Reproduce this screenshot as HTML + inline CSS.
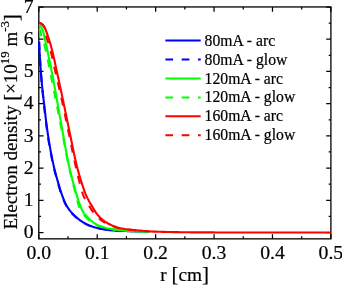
<!DOCTYPE html>
<html><head><meta charset="utf-8"><title>Electron density</title>
<style>
html,body{margin:0;padding:0;background:#fff;}
body{width:342px;height:285px;overflow:hidden;position:relative;}
svg text{font-family:"Liberation Serif",serif;fill:#000;stroke:#000;stroke-width:0.2px;}
</style></head><body>
<svg width="342" height="285" viewBox="0 0 342 285" style="position:absolute;left:0;top:0;will-change:transform">
<rect width="342" height="285" fill="#fff"/>
<path d="M38.80,238.85 v-4.7 M38.80,6.95 v4.7 M68.01,238.85 v-2.6 M68.01,6.95 v2.6 M97.22,238.85 v-4.7 M97.22,6.95 v4.7 M126.43,238.85 v-2.6 M126.43,6.95 v2.6 M155.64,238.85 v-4.7 M155.64,6.95 v4.7 M184.85,238.85 v-2.6 M184.85,6.95 v2.6 M214.06,238.85 v-4.7 M214.06,6.95 v4.7 M243.27,238.85 v-2.6 M243.27,6.95 v2.6 M272.48,238.85 v-4.7 M272.48,6.95 v4.7 M301.69,238.85 v-2.6 M301.69,6.95 v2.6 M330.90,238.85 v-4.7 M330.90,6.95 v4.7 M38.8,232.50 h4.7 M330.9,232.50 h-4.7 M38.8,216.40 h2.2 M330.9,216.40 h-2.2 M38.8,200.29 h4.7 M330.9,200.29 h-4.7 M38.8,184.19 h2.2 M330.9,184.19 h-2.2 M38.8,168.08 h4.7 M330.9,168.08 h-4.7 M38.8,151.97 h2.2 M330.9,151.97 h-2.2 M38.8,135.87 h4.7 M330.9,135.87 h-4.7 M38.8,119.77 h2.2 M330.9,119.77 h-2.2 M38.8,103.66 h4.7 M330.9,103.66 h-4.7 M38.8,87.56 h2.2 M330.9,87.56 h-2.2 M38.8,71.45 h4.7 M330.9,71.45 h-4.7 M38.8,55.34 h2.2 M330.9,55.34 h-2.2 M38.8,39.24 h4.7 M330.9,39.24 h-4.7 M38.8,23.13 h2.2 M330.9,23.13 h-2.2 M38.8,7.03 h4.7 M330.9,7.03 h-4.7" stroke="#000" stroke-width="1.25" fill="none"/>
<rect x="38.8" y="6.95" width="292.09999999999997" height="231.9" fill="none" stroke="#000" stroke-width="1.3"/>
<clipPath id="c"><rect x="37.5" y="6.95" width="293.4" height="231.9"/></clipPath>
<g clip-path="url(#c)" fill="none" stroke-width="2.1" stroke-linejoin="round">
<path d="M39.10,41.60 L39.15,42.89 L39.20,44.18 L39.26,45.47 L39.31,46.77 L39.37,48.06 L39.44,49.35 L39.50,50.64 L39.57,51.93 L39.64,53.22 L39.71,54.51 L39.79,55.80 L39.86,57.09 L39.94,58.38 L40.02,59.67 L40.10,60.96 L40.19,62.24 L40.27,63.53 L40.36,64.82 L40.45,66.11 L40.54,67.40 L40.63,68.69 L40.73,69.97 L40.82,71.26 L40.92,72.55 L41.01,73.84 L41.11,75.12 L41.21,76.41 L41.32,77.70 L41.43,78.98 L41.54,80.27 L41.66,81.56 L41.78,82.84 L41.90,84.13 L42.03,85.41 L42.16,86.70 L42.29,87.98 L42.43,89.27 L42.57,90.55 L42.71,91.84 L42.85,93.12 L42.99,94.41 L43.14,95.69 L43.28,96.97 L43.43,98.26 L43.58,99.54 L43.72,100.83 L43.87,102.11 L44.02,103.39 L44.16,104.68 L44.31,105.96 L44.46,107.24 L44.60,108.53 L44.75,109.81 L44.90,111.09 L45.05,112.38 L45.20,113.66 L45.35,114.94 L45.50,116.23 L45.66,117.51 L45.82,118.79 L45.97,120.07 L46.13,121.36 L46.30,122.64 L46.46,123.92 L46.63,125.20 L46.80,126.48 L46.97,127.76 L47.14,129.04 L47.32,130.32 L47.50,131.60 L47.69,132.88 L47.87,134.15 L48.06,135.43 L48.26,136.71 L48.46,137.98 L48.66,139.26 L48.86,140.53 L49.07,141.81 L49.28,143.08 L49.50,144.36 L49.71,145.63 L49.94,146.91 L50.16,148.18 L50.39,149.45 L50.62,150.72 L50.86,152.00 L51.10,153.27 L51.34,154.54 L51.59,155.80 L51.84,157.07 L52.09,158.34 L52.35,159.60 L52.62,160.87 L52.88,162.13 L53.15,163.39 L53.42,164.65 L53.70,165.91 L53.99,167.17 L54.29,168.42 L54.60,169.68 L54.92,170.93 L55.25,172.18 L55.58,173.43 L55.92,174.68 L56.26,175.93 L56.61,177.17 L56.95,178.42 L57.30,179.66 L57.65,180.90 L58.00,182.15 L58.36,183.39 L58.71,184.63 L59.07,185.88 L59.44,187.12 L59.81,188.36 L60.19,189.59 L60.58,190.83 L60.98,192.05 L61.39,193.28 L61.82,194.49 L62.25,195.70 L62.70,196.92 L63.16,198.14 L63.64,199.35 L64.13,200.56 L64.65,201.75 L65.18,202.93 L65.75,204.08 L66.34,205.21 L66.97,206.31 L67.65,207.40 L68.37,208.48 L69.14,209.53 L69.93,210.57 L70.76,211.59 L71.60,212.57 L72.46,213.53 L73.33,214.46 L74.24,215.37 L75.19,216.25 L76.16,217.12 L77.16,217.96 L78.17,218.77 L79.20,219.56 L80.23,220.32 L81.29,221.06 L82.36,221.78 L83.46,222.48 L84.58,223.13 L85.71,223.75 L86.86,224.33 L88.03,224.88 L89.22,225.39 L90.42,225.87 L91.63,226.32 L92.85,226.74 L94.09,227.13 L95.33,227.49 L96.58,227.82 L97.83,228.11 L99.10,228.38 L100.37,228.63 L101.64,228.87 L102.91,229.11 L104.18,229.34 L105.45,229.56 L106.73,229.75 L108.01,229.93 L109.29,230.10 L110.57,230.24 L111.86,230.37 L113.15,230.46 L114.43,230.54 L115.72,230.62 L117.01,230.68 L118.31,230.74 L119.60,230.80 L120.89,230.85 L122.18,230.91 L123.47,230.96 L124.76,231.01 L126.05,231.06 L127.34,231.11 L128.63,231.16 L129.92,231.20 L131.21,231.24 L132.51,231.28 L133.80,231.32 L135.09,231.36 L136.38,231.40 L137.67,231.44 L138.96,231.48 L140.25,231.51 L141.54,231.55 L142.83,231.58 L144.13,231.61 L145.42,231.64 L146.71,231.67 L148.00,231.70" stroke="#0000ff"/>
<path d="M39.10,42.00 L39.15,43.21 L39.21,44.43 L39.26,45.64 L39.32,46.85 L39.38,48.07 L39.44,49.28 L39.50,50.49 L39.57,51.71 L39.63,52.92 L39.70,54.13 L39.77,55.34 L39.84,56.55 L39.92,57.77 L39.99,58.98 L40.07,60.19 L40.15,61.40 L40.22,62.61 L40.31,63.83 L40.39,65.04 L40.47,66.25 L40.55,67.46 L40.64,68.67 L40.72,69.88 L40.81,71.09 L40.90,72.30 L40.99,73.51 L41.08,74.72 L41.17,75.93 L41.27,77.14 L41.36,78.35 L41.46,79.56 L41.57,80.77 L41.67,81.98 L41.78,83.19 L41.89,84.40 L42.00,85.61 L42.12,86.82 L42.24,88.03 L42.35,89.23 L42.47,90.44 L42.60,91.65 L42.72,92.86 L42.84,94.07 L42.97,95.27 L43.10,96.48 L43.23,97.69 L43.35,98.90 L43.48,100.11 L43.61,101.31 L43.74,102.52 L43.87,103.73 L44.01,104.93 L44.14,106.14 L44.27,107.35 L44.40,108.55 L44.53,109.76 L44.67,110.97 L44.80,112.18 L44.94,113.38 L45.08,114.59 L45.22,115.80 L45.36,117.00 L45.50,118.21 L45.64,119.42 L45.79,120.62 L45.93,121.83 L46.08,123.03 L46.23,124.24 L46.39,125.44 L46.54,126.65 L46.70,127.85 L46.86,129.05 L47.03,130.26 L47.19,131.46 L47.36,132.66 L47.53,133.86 L47.71,135.06 L47.89,136.26 L48.07,137.46 L48.25,138.66 L48.44,139.86 L48.64,141.06 L48.83,142.26 L49.03,143.45 L49.23,144.65 L49.44,145.85 L49.65,147.05 L49.86,148.24 L50.08,149.44 L50.30,150.64 L50.52,151.83 L50.75,153.02 L50.97,154.22 L51.21,155.41 L51.44,156.60 L51.68,157.79 L51.92,158.98 L52.17,160.17 L52.42,161.36 L52.67,162.55 L52.92,163.73 L53.18,164.92 L53.45,166.10 L53.72,167.28 L54.00,168.46 L54.29,169.64 L54.59,170.82 L54.90,171.99 L55.21,173.17 L55.53,174.34 L55.85,175.51 L56.17,176.68 L56.50,177.85 L56.83,179.02 L57.15,180.19 L57.48,181.36 L57.81,182.53 L58.14,183.70 L58.48,184.87 L58.82,186.04 L59.16,187.20 L59.51,188.37 L59.87,189.53 L60.24,190.69 L60.61,191.84 L61.00,192.99 L61.39,194.14 L61.80,195.27 L62.22,196.42 L62.64,197.56 L63.08,198.70 L63.54,199.84 L64.01,200.97 L64.50,202.09 L65.01,203.19 L65.54,204.27 L66.10,205.33 L66.70,206.36 L67.34,207.39 L68.02,208.40 L68.73,209.39 L69.48,210.37 L70.25,211.33 L71.04,212.27 L71.84,213.18 L72.65,214.06 L73.49,214.92 L74.36,215.76 L75.26,216.59 L76.18,217.39 L77.12,218.18 L78.08,218.94 L79.05,219.67 L80.02,220.39 L81.01,221.08 L82.03,221.76 L83.06,222.41 L84.11,223.03 L85.17,223.62 L86.24,224.17 L87.34,224.70 L88.45,225.19 L89.58,225.66 L90.71,226.09 L91.85,226.50 L93.00,226.88 L94.17,227.24 L95.34,227.58 L96.51,227.88 L97.69,228.15 L98.88,228.40 L100.07,228.63 L101.27,228.86 L102.46,229.08 L103.66,229.30 L104.85,229.51 L106.05,229.70 L107.25,229.87 L108.46,230.03 L109.66,230.18 L110.87,230.30 L112.08,230.41 L113.29,230.49 L114.50,230.56 L115.71,230.63 L116.93,230.69 L118.14,230.75 L119.35,230.80 L120.57,230.85 L121.78,230.90 L122.99,230.95 L124.21,231.00 L125.42,231.05 L126.63,231.10 L127.85,231.14 L129.06,231.19 L130.27,231.23 L131.49,231.26 L132.70,231.30" stroke="#0000ff" stroke-dasharray="7.9 8.1" stroke-dashoffset="0"/>
<path d="M38.90,25.10 L40.16,25.57 L40.99,26.49 L41.65,27.75 L42.22,28.99 L42.72,30.23 L43.15,31.50 L43.51,32.79 L43.80,34.09 L44.08,35.40 L44.37,36.70 L44.66,38.01 L44.95,39.31 L45.24,40.62 L45.53,41.92 L45.82,43.23 L46.10,44.53 L46.38,45.84 L46.66,47.15 L46.94,48.45 L47.22,49.76 L47.50,51.07 L47.78,52.38 L48.05,53.68 L48.33,54.99 L48.61,56.30 L48.88,57.61 L49.15,58.91 L49.43,60.22 L49.70,61.53 L49.97,62.84 L50.24,64.15 L50.50,65.46 L50.77,66.77 L51.03,68.08 L51.30,69.39 L51.56,70.70 L51.82,72.01 L52.07,73.32 L52.33,74.63 L52.58,75.95 L52.83,77.26 L53.08,78.57 L53.33,79.88 L53.57,81.20 L53.82,82.51 L54.06,83.83 L54.30,85.14 L54.54,86.46 L54.77,87.77 L55.01,89.09 L55.25,90.40 L55.48,91.72 L55.72,93.03 L55.95,94.35 L56.19,95.67 L56.42,96.98 L56.65,98.30 L56.89,99.61 L57.12,100.93 L57.36,102.25 L57.59,103.56 L57.83,104.88 L58.06,106.19 L58.30,107.51 L58.53,108.82 L58.77,110.14 L59.00,111.45 L59.24,112.77 L59.47,114.09 L59.70,115.40 L59.94,116.72 L60.17,118.03 L60.40,119.35 L60.63,120.67 L60.87,121.98 L61.10,123.30 L61.33,124.61 L61.57,125.93 L61.80,127.25 L62.04,128.56 L62.27,129.88 L62.51,131.19 L62.75,132.51 L62.99,133.82 L63.22,135.14 L63.46,136.45 L63.70,137.77 L63.94,139.08 L64.17,140.40 L64.40,141.72 L64.64,143.03 L64.87,144.35 L65.10,145.67 L65.33,146.98 L65.57,148.30 L65.81,149.62 L66.04,150.93 L66.28,152.25 L66.53,153.56 L66.77,154.87 L67.02,156.19 L67.27,157.50 L67.53,158.81 L67.79,160.12 L68.05,161.43 L68.32,162.74 L68.60,164.04 L68.88,165.35 L69.17,166.65 L69.46,167.96 L69.77,169.26 L70.08,170.56 L70.40,171.85 L70.73,173.15 L71.06,174.45 L71.39,175.74 L71.72,177.04 L72.06,178.33 L72.40,179.62 L72.74,180.91 L73.08,182.21 L73.43,183.50 L73.77,184.79 L74.13,186.08 L74.48,187.37 L74.84,188.66 L75.21,189.94 L75.58,191.23 L75.95,192.51 L76.33,193.79 L76.72,195.07 L77.11,196.35 L77.50,197.63 L77.90,198.91 L78.30,200.19 L78.72,201.46 L79.15,202.72 L79.61,203.98 L80.09,205.22 L80.59,206.45 L81.10,207.71 L81.64,208.96 L82.21,210.19 L82.83,211.39 L83.49,212.54 L84.21,213.63 L85.06,214.62 L86.05,215.55 L86.98,216.51 L87.90,217.48 L88.83,218.45 L89.77,219.41 L90.74,220.32 L91.75,221.18 L92.79,222.02 L93.87,222.84 L94.98,223.61 L96.11,224.29 L97.29,224.88 L98.51,225.41 L99.77,225.89 L101.04,226.34 L102.31,226.77 L103.57,227.20 L104.85,227.60 L106.14,227.97 L107.43,228.29 L108.74,228.57 L110.05,228.82 L111.37,229.05 L112.69,229.26 L114.01,229.45 L115.34,229.62 L116.66,229.79 L117.99,229.95 L119.32,230.11 L120.65,230.26 L121.97,230.40 L123.31,230.51 L124.64,230.63 L125.97,230.73 L127.30,230.84 L128.64,230.93 L129.97,231.02 L131.30,231.10 L132.64,231.18 L133.97,231.25 L135.31,231.31 L136.64,231.37 L137.98,231.43 L139.31,231.49 L140.65,231.54 L141.98,231.59 L143.32,231.64 L144.65,231.68 L145.99,231.72 L147.33,231.75 L148.66,231.78 L150.00,231.80" stroke="#00ff00"/>
<path d="M38.90,27.30 L39.31,28.48 L39.69,29.67 L40.05,30.87 L40.38,32.07 L40.67,33.28 L40.95,34.50 L41.25,35.71 L41.61,36.90 L42.01,38.09 L42.43,39.26 L42.87,40.44 L43.30,41.61 L43.71,42.79 L44.10,43.98 L44.45,45.17 L44.77,46.37 L45.08,47.58 L45.38,48.78 L45.67,49.99 L45.96,51.21 L46.24,52.42 L46.51,53.64 L46.78,54.86 L47.04,56.08 L47.30,57.30 L47.55,58.52 L47.80,59.75 L48.04,60.98 L48.28,62.20 L48.52,63.43 L48.76,64.66 L49.00,65.89 L49.24,67.12 L49.48,68.34 L49.72,69.57 L49.96,70.80 L50.20,72.03 L50.44,73.25 L50.69,74.47 L50.94,75.70 L51.19,76.92 L51.44,78.14 L51.69,79.37 L51.94,80.59 L52.18,81.81 L52.43,83.04 L52.67,84.26 L52.91,85.49 L53.15,86.71 L53.40,87.94 L53.64,89.16 L53.88,90.39 L54.12,91.61 L54.36,92.84 L54.60,94.06 L54.84,95.29 L55.08,96.51 L55.32,97.74 L55.56,98.96 L55.80,100.19 L56.04,101.41 L56.28,102.64 L56.52,103.86 L56.77,105.09 L57.01,106.31 L57.25,107.53 L57.50,108.76 L57.74,109.98 L57.98,111.21 L58.23,112.43 L58.47,113.66 L58.72,114.88 L58.96,116.11 L59.20,117.33 L59.45,118.55 L59.69,119.78 L59.93,121.00 L60.18,122.23 L60.42,123.45 L60.66,124.68 L60.91,125.90 L61.15,127.12 L61.39,128.35 L61.63,129.57 L61.87,130.80 L62.12,132.02 L62.36,133.25 L62.60,134.47 L62.84,135.70 L63.07,136.92 L63.31,138.15 L63.54,139.38 L63.77,140.60 L64.00,141.83 L64.23,143.06 L64.46,144.29 L64.69,145.52 L64.91,146.74 L65.14,147.97 L65.37,149.20 L65.60,150.43 L65.83,151.65 L66.06,152.88 L66.29,154.11 L66.53,155.33 L66.77,156.56 L67.01,157.78 L67.25,159.01 L67.50,160.23 L67.75,161.45 L68.00,162.67 L68.26,163.89 L68.52,165.11 L68.80,166.33 L69.07,167.55 L69.36,168.76 L69.65,169.98 L69.94,171.19 L70.24,172.40 L70.54,173.61 L70.84,174.83 L71.15,176.04 L71.45,177.25 L71.76,178.46 L72.06,179.67 L72.36,180.88 L72.66,182.09 L72.96,183.30 L73.27,184.52 L73.57,185.73 L73.87,186.94 L74.18,188.15 L74.49,189.36 L74.80,190.57 L75.10,191.78 L75.41,192.99 L75.73,194.19 L76.04,195.40 L76.34,196.62 L76.63,197.84 L76.92,199.06 L77.21,200.29 L77.51,201.50 L77.83,202.71 L78.18,203.90 L78.55,205.08 L78.97,206.24 L79.42,207.41 L79.91,208.58 L80.44,209.74 L81.01,210.87 L81.62,211.97 L82.28,213.02 L82.98,214.01 L83.85,214.90 L84.76,215.77 L85.63,216.67 L86.49,217.58 L87.36,218.49 L88.24,219.37 L89.14,220.23 L90.08,221.03 L91.05,221.83 L92.05,222.61 L93.07,223.34 L94.12,224.02 L95.20,224.60 L96.32,225.11 L97.49,225.57 L98.67,225.99 L99.87,226.39 L101.05,226.79 L102.24,227.17 L103.44,227.54 L104.64,227.88 L105.85,228.18 L107.06,228.45 L108.29,228.69 L109.52,228.91 L110.75,229.12 L111.99,229.30 L113.22,229.47 L114.46,229.63 L115.70,229.78 L116.94,229.93 L118.18,230.08 L119.42,230.23 L120.66,230.36 L121.90,230.47 L123.15,230.58 L124.39,230.68 L125.63,230.78 L126.88,230.87 L128.12,230.96 L129.37,231.05 L130.62,231.12 L131.86,231.19 L133.11,231.25 L134.36,231.30" stroke="#00ff00" stroke-dasharray="7.9 8.1" stroke-dashoffset="14.6"/>
<path d="M38.90,22.80 L41.01,23.19 L42.76,24.73 L44.05,26.48 L45.09,28.48 L45.95,30.52 L46.72,32.61 L47.42,34.71 L48.10,36.82 L48.80,38.92 L49.50,41.03 L50.16,43.15 L50.77,45.27 L51.35,47.41 L51.90,49.55 L52.43,51.70 L52.95,53.86 L53.45,56.01 L53.94,58.18 L54.43,60.34 L54.90,62.51 L55.37,64.68 L55.83,66.85 L56.30,69.02 L56.77,71.19 L57.24,73.36 L57.72,75.52 L58.19,77.69 L58.66,79.85 L59.13,82.02 L59.60,84.18 L60.07,86.35 L60.53,88.52 L60.99,90.69 L61.45,92.86 L61.91,95.03 L62.36,97.20 L62.82,99.36 L63.27,101.53 L63.73,103.70 L64.18,105.87 L64.64,108.04 L65.09,110.21 L65.54,112.38 L65.98,114.56 L66.43,116.73 L66.87,118.90 L67.32,121.07 L67.76,123.24 L68.21,125.41 L68.66,127.58 L69.11,129.75 L69.56,131.93 L70.01,134.09 L70.46,136.26 L70.91,138.44 L71.36,140.61 L71.80,142.78 L72.24,144.96 L72.68,147.13 L73.12,149.30 L73.57,151.48 L74.02,153.65 L74.49,155.81 L74.96,157.98 L75.45,160.14 L75.95,162.30 L76.47,164.45 L77.00,166.60 L77.56,168.74 L78.13,170.89 L78.73,173.02 L79.34,175.16 L79.97,177.28 L80.62,179.40 L81.27,181.52 L81.94,183.63 L82.62,185.75 L83.32,187.86 L84.05,189.96 L84.82,192.04 L85.63,194.09 L86.49,196.12 L87.44,198.13 L88.45,200.11 L89.51,202.06 L90.64,203.96 L91.81,205.85 L92.94,207.76 L94.07,209.69 L95.23,211.58 L96.49,213.38 L97.86,215.12 L99.33,216.80 L100.90,218.38 L102.55,219.83 L104.33,221.16 L106.19,222.39 L108.10,223.49 L110.08,224.50 L112.11,225.42 L114.15,226.28 L116.23,227.07 L118.35,227.69 L120.50,228.18 L122.68,228.61 L124.87,228.99 L127.07,229.31 L129.27,229.59 L131.47,229.84 L133.68,230.05 L135.89,230.24 L138.10,230.43 L140.31,230.61 L142.52,230.80 L144.73,230.99 L146.94,231.17 L149.15,231.34 L151.36,231.48 L153.57,231.58 L155.79,231.66 L158.00,231.73 L160.22,231.80 L162.43,231.86 L164.65,231.91 L166.87,231.96 L169.08,232.00 L171.30,232.04 L173.52,232.08 L175.73,232.11 L177.95,232.15 L180.17,232.18 L182.38,232.22 L184.60,232.25 L186.82,232.29 L189.03,232.31 L191.25,232.34 L193.47,232.36 L195.68,232.38 L197.90,232.39 L200.12,232.40 L202.33,232.40 L204.55,232.41 L206.77,232.41 L208.98,232.42 L211.20,232.42 L213.41,232.42 L215.63,232.43 L217.85,232.43 L220.06,232.43 L222.28,232.44 L224.50,232.44 L226.71,232.44 L228.93,232.44 L231.15,232.45 L233.36,232.45 L235.58,232.45 L237.80,232.45 L240.01,232.46 L242.23,232.46 L244.45,232.46 L246.66,232.46 L248.88,232.47 L251.10,232.47 L253.31,232.47 L255.53,232.47 L257.75,232.47 L259.96,232.48 L262.18,232.48 L264.40,232.48 L266.61,232.48 L268.83,232.48 L271.05,232.48 L273.26,232.48 L275.48,232.49 L277.70,232.49 L279.91,232.49 L282.13,232.49 L284.35,232.49 L286.56,232.49 L288.78,232.49 L291.00,232.49 L293.21,232.49 L295.43,232.49 L297.65,232.50 L299.86,232.50 L302.08,232.50 L304.30,232.50 L306.52,232.50 L308.73,232.50 L310.95,232.50 L313.17,232.50 L315.38,232.50 L317.60,232.50 L319.82,232.50 L322.03,232.50 L324.25,232.50 L326.47,232.50 L328.68,232.50 L330.90,232.50" stroke="#ff0000"/>
<path d="M38.90,22.80 L40.20,23.24 L41.36,23.82 L42.36,24.52 L43.18,25.32 L43.88,26.35 L44.47,27.52 L44.93,28.71 L45.30,29.90 L45.60,31.13 L45.83,32.37 L45.98,33.62 L46.12,34.87 L46.28,36.11 L46.54,37.33 L46.87,38.53 L47.27,39.73 L47.70,40.91 L48.14,42.10 L48.56,43.29 L48.95,44.49 L49.29,45.70 L49.62,46.91 L49.94,48.12 L50.25,49.33 L50.56,50.55 L50.86,51.77 L51.16,52.99 L51.45,54.21 L51.74,55.43 L52.02,56.66 L52.30,57.88 L52.58,59.11 L52.85,60.33 L53.12,61.56 L53.39,62.79 L53.66,64.02 L53.93,65.25 L54.20,66.48 L54.47,67.70 L54.74,68.93 L55.01,70.16 L55.28,71.39 L55.56,72.61 L55.83,73.84 L56.11,75.06 L56.40,76.29 L56.68,77.51 L56.96,78.74 L57.24,79.96 L57.52,81.18 L57.81,82.41 L58.09,83.63 L58.37,84.86 L58.65,86.08 L58.93,87.31 L59.21,88.53 L59.49,89.75 L59.77,90.98 L60.05,92.20 L60.33,93.43 L60.60,94.65 L60.88,95.88 L61.16,97.11 L61.43,98.33 L61.70,99.56 L61.97,100.78 L62.25,102.01 L62.52,103.24 L62.78,104.46 L63.05,105.69 L63.32,106.92 L63.58,108.15 L63.84,109.37 L64.10,110.60 L64.36,111.83 L64.62,113.06 L64.88,114.29 L65.14,115.52 L65.39,116.75 L65.65,117.98 L65.90,119.21 L66.16,120.44 L66.41,121.67 L66.67,122.90 L66.92,124.13 L67.17,125.36 L67.43,126.59 L67.68,127.82 L67.93,129.05 L68.19,130.28 L68.44,131.51 L68.70,132.74 L68.95,133.97 L69.21,135.20 L69.46,136.43 L69.72,137.66 L69.97,138.89 L70.22,140.12 L70.48,141.35 L70.73,142.59 L70.98,143.82 L71.23,145.05 L71.48,146.28 L71.73,147.51 L71.98,148.74 L72.23,149.97 L72.48,151.20 L72.74,152.43 L72.99,153.66 L73.25,154.89 L73.50,156.12 L73.76,157.35 L74.02,158.58 L74.28,159.81 L74.55,161.04 L74.82,162.26 L75.08,163.49 L75.36,164.72 L75.63,165.94 L75.91,167.17 L76.18,168.39 L76.46,169.62 L76.74,170.84 L77.03,172.07 L77.32,173.29 L77.61,174.51 L77.90,175.73 L78.20,176.95 L78.50,178.17 L78.81,179.39 L79.12,180.61 L79.43,181.82 L79.74,183.04 L80.05,184.27 L80.36,185.49 L80.67,186.72 L81.00,187.94 L81.33,189.15 L81.67,190.36 L82.03,191.57 L82.41,192.76 L82.81,193.94 L83.24,195.10 L83.71,196.26 L84.23,197.40 L84.78,198.53 L85.37,199.65 L85.98,200.76 L86.59,201.86 L87.22,202.95 L87.87,204.02 L88.55,205.07 L89.23,206.13 L89.91,207.19 L90.59,208.26 L91.27,209.32 L91.97,210.37 L92.69,211.40 L93.43,212.41 L94.20,213.39 L95.00,214.35 L95.83,215.29 L96.70,216.21 L97.59,217.11 L98.51,217.98 L99.45,218.81 L100.41,219.59 L101.42,220.34 L102.45,221.06 L103.51,221.75 L104.59,222.40 L105.68,223.02 L106.79,223.61 L107.91,224.17 L109.06,224.70 L110.21,225.21 L111.37,225.69 L112.54,226.17 L113.71,226.63 L114.90,227.05 L116.10,227.42 L117.30,227.73 L118.52,228.00 L119.75,228.26 L120.98,228.49 L122.22,228.71 L123.47,228.92 L124.72,229.10 L125.97,229.28 L127.21,229.44 L128.46,229.59 L129.70,229.74 L130.95,229.87 L132.20,230.00 L133.45,230.13 L134.70,230.24 L135.96,230.34 L137.21,230.43 L138.47,230.50" stroke="#ff0000" stroke-dasharray="7.9 8.1" stroke-dashoffset="0"/>
</g>
<path d="M165.4,40.6 H200.7" stroke="#0000ff" stroke-width="2" fill="none"/>
<text x="204.6" y="45.6" font-size="15.7">80mA - arc</text>
<path d="M165.4,59.5 H200.7" stroke="#0000ff" stroke-width="2" stroke-dasharray="7.7 8.6" fill="none"/>
<text x="204.6" y="64.5" font-size="15.7">80mA - glow</text>
<path d="M165.4,78.5 H200.7" stroke="#00ff00" stroke-width="2" fill="none"/>
<text x="204.6" y="83.5" font-size="15.7">120mA - arc</text>
<path d="M165.4,97.4 H200.7" stroke="#00ff00" stroke-width="2" stroke-dasharray="7.7 8.6" fill="none"/>
<text x="204.6" y="102.4" font-size="15.7">120mA - glow</text>
<path d="M165.4,116.2 H200.7" stroke="#ff0000" stroke-width="2" fill="none"/>
<text x="204.6" y="121.2" font-size="15.7">160mA - arc</text>
<path d="M165.4,135.3 H200.7" stroke="#ff0000" stroke-width="2" stroke-dasharray="7.7 8.6" fill="none"/>
<text x="204.6" y="140.3" font-size="15.7">160mA - glow</text>
<text x="38.80" y="259.3" font-size="19.7" text-anchor="middle">0.0</text>
<text x="97.22" y="259.3" font-size="19.7" text-anchor="middle">0.1</text>
<text x="155.64" y="259.3" font-size="19.7" text-anchor="middle">0.2</text>
<text x="214.06" y="259.3" font-size="19.7" text-anchor="middle">0.3</text>
<text x="272.48" y="259.3" font-size="19.7" text-anchor="middle">0.4</text>
<text x="330.90" y="259.3" font-size="19.7" text-anchor="middle">0.5</text>
<text x="33.6" y="238.30" font-size="19.7" text-anchor="end">0</text>
<text x="33.6" y="206.09" font-size="19.7" text-anchor="end">1</text>
<text x="33.6" y="173.88" font-size="19.7" text-anchor="end">2</text>
<text x="33.6" y="141.67" font-size="19.7" text-anchor="end">3</text>
<text x="33.6" y="109.46" font-size="19.7" text-anchor="end">4</text>
<text x="33.6" y="77.25" font-size="19.7" text-anchor="end">5</text>
<text x="33.6" y="45.04" font-size="19.7" text-anchor="end">6</text>
<text x="33.6" y="12.83" font-size="19.7" text-anchor="end">7</text>
<text x="184.6" y="281" font-size="19.3" text-anchor="middle">r <tspan font-size="21" dy="0.4">[</tspan><tspan dy="-0.4">cm</tspan><tspan font-size="21" dy="0.4">]</tspan></text>
<text transform="translate(17.1,229.6) rotate(-90)" font-size="19">Electron density <tspan font-size="21" dy="0.4">[</tspan><tspan dy="-0.4">×10</tspan><tspan font-size="12.8" dy="-8.3">19</tspan><tspan dy="8.3"> m</tspan><tspan font-size="12.8" dy="-8.3">-3</tspan><tspan dy="8.7" font-size="21">]</tspan></text>
</svg>
</body></html>
